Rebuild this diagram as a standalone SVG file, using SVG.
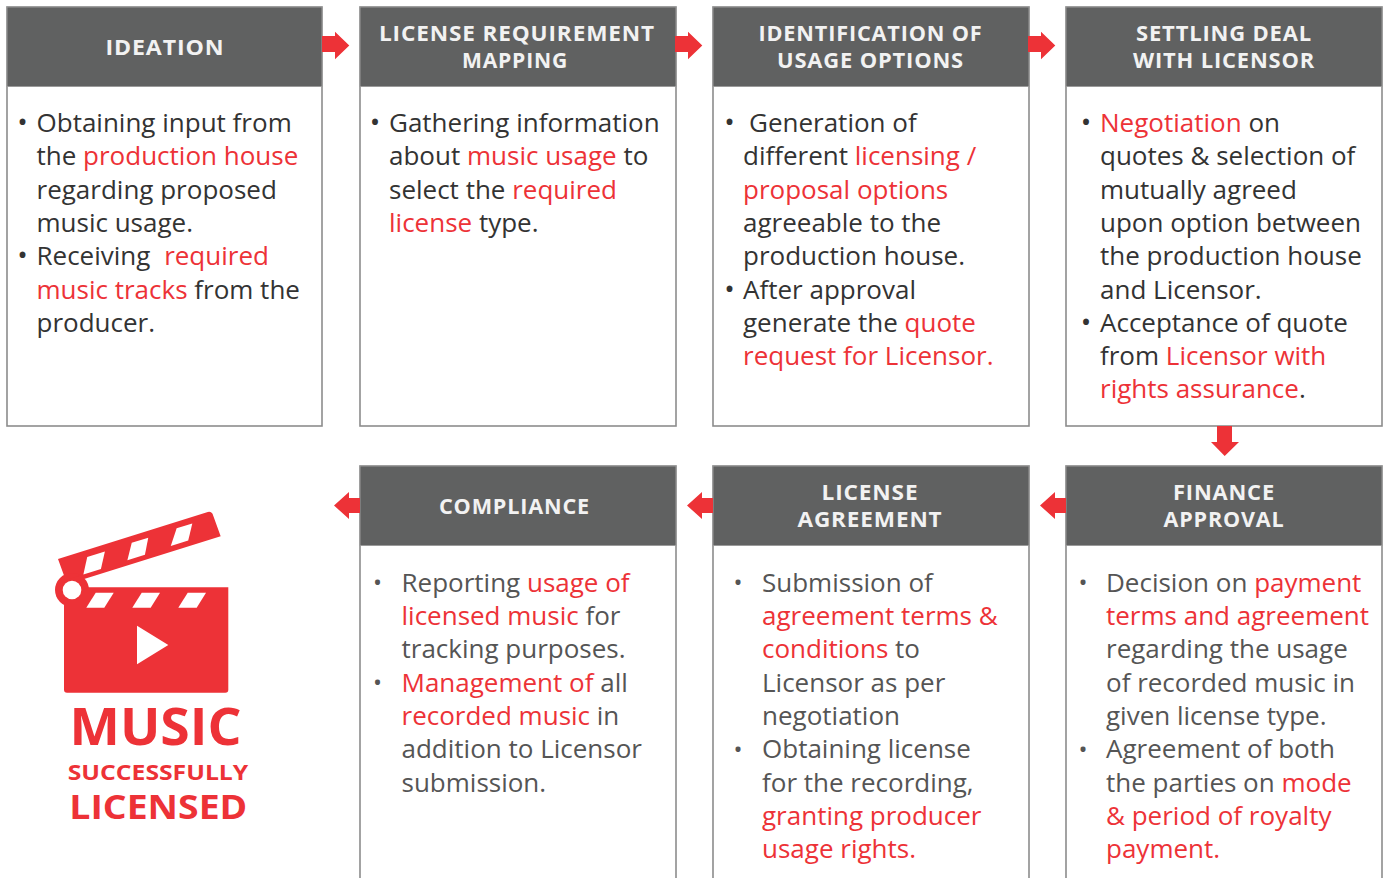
<svg xmlns="http://www.w3.org/2000/svg" width="1387" height="878" viewBox="0 0 1387 878">
<style>
.box{fill:#ffffff;stroke:#8c8c8c;stroke-width:1.6}
.hdr{fill:#606161;stroke:#9a9a9a;stroke-width:1}
.ht{font-family:"Open Sans","Noto Sans",sans-serif;font-weight:700;font-size:21px;letter-spacing:0.8px;fill:#f2f2f2;text-anchor:middle}
.bt{font-family:"Open Sans","Noto Sans",sans-serif;font-size:26px;fill:#333333}
.bb{font-family:"Open Sans","Noto Sans",sans-serif;font-size:26px;fill:#555555}
.r{fill:#ed3237}
.bul{font-family:"Open Sans","Noto Sans",sans-serif;font-size:28px;text-anchor:middle}
.bul2{font-family:"Open Sans","Noto Sans",sans-serif;font-size:24px;text-anchor:middle}
.arr{fill:#ed3237}
.logo{font-family:"Open Sans","Liberation Sans",sans-serif;font-weight:700;fill:#ed3237;text-anchor:middle}
</style>
<rect width="1387" height="878" fill="#ffffff"/>

<g id="node-ideation">
<rect class="box" x="7" y="7" width="315" height="419"/>
<rect class="hdr" x="7" y="7" width="315" height="79.5"/>
<text class="ht" x="165" y="55.3" font-size="23" textLength="119" lengthAdjust="spacingAndGlyphs">IDEATION</text>
<text class="bul" x="22.5" y="132" fill="#333">•</text>
<text class="bt" x="36.5" y="132">Obtaining input from</text>
<text class="bt" x="36.5" y="165.3">the <tspan class="r">production house</tspan></text>
<text class="bt" x="36.5" y="198.6">regarding proposed</text>
<text class="bt" x="36.5" y="232">music usage.</text>
<text class="bul" x="22.5" y="265.2" fill="#333">•</text>
<text class="bt" x="36.5" y="265.2">Receiving <tspan class="r" dx="7">required</tspan></text>
<text class="bt" x="36.5" y="298.5"><tspan class="r">music tracks</tspan> from the</text>
<text class="bt" x="36.5" y="331.8">producer.</text>
</g>

<g id="node-license-requirement">
<rect class="box" x="360" y="7" width="316" height="419"/>
<rect class="hdr" x="360" y="7" width="316" height="79.5"/>
<text class="ht" x="517" y="41" textLength="276" lengthAdjust="spacingAndGlyphs">LICENSE REQUIREMENT</text>
<text class="ht" x="515" y="68" textLength="106" lengthAdjust="spacingAndGlyphs">MAPPING</text>
<text class="bul" x="375" y="132" fill="#333">•</text>
<text class="bt" x="389" y="132">Gathering information</text>
<text class="bt" x="389" y="165.3">about <tspan class="r">music usage</tspan> to</text>
<text class="bt" x="389" y="198.6">select the <tspan class="r">required</tspan></text>
<text class="bt" x="389" y="232"><tspan class="r">license</tspan> type.</text>
</g>

<g id="node-identification">
<rect class="box" x="713" y="7" width="316" height="419"/>
<rect class="hdr" x="713" y="7" width="316" height="79.5"/>
<text class="ht" x="870.5" y="41" textLength="224" lengthAdjust="spacingAndGlyphs">IDENTIFICATION OF</text>
<text class="ht" x="870.5" y="68" textLength="187" lengthAdjust="spacingAndGlyphs">USAGE OPTIONS</text>
<text class="bul" x="729.5" y="132" fill="#333">•</text>
<text class="bt" x="749" y="132">Generation of</text>
<text class="bt" x="743" y="165.3">different <tspan class="r">licensing /</tspan></text>
<text class="bt" x="743" y="198.6"><tspan class="r">proposal options</tspan></text>
<text class="bt" x="743" y="232">agreeable to the</text>
<text class="bt" x="743" y="265.2">production house.</text>
<text class="bul" x="729.5" y="298.5" fill="#333">•</text>
<text class="bt" x="743" y="298.5">After approval</text>
<text class="bt" x="743" y="331.8">generate the <tspan class="r">quote</tspan></text>
<text class="bt" x="743" y="365"><tspan class="r">request for Licensor.</tspan></text>
</g>

<g id="node-settling-deal">
<rect class="box" x="1066" y="7" width="316" height="419"/>
<rect class="hdr" x="1066" y="7" width="316" height="79.5"/>
<text class="ht" x="1224" y="41" textLength="176" lengthAdjust="spacingAndGlyphs">SETTLING DEAL</text>
<text class="ht" x="1224" y="68" textLength="182" lengthAdjust="spacingAndGlyphs">WITH LICENSOR</text>
<text class="bul" x="1086" y="132" fill="#333">•</text>
<text class="bt" x="1100" y="132"><tspan class="r">Negotiation</tspan> on</text>
<text class="bt" x="1100" y="165.3">quotes &amp; selection of</text>
<text class="bt" x="1100" y="198.6">mutually agreed</text>
<text class="bt" x="1100" y="232">upon option between</text>
<text class="bt" x="1100" y="265.2">the production house</text>
<text class="bt" x="1100" y="298.5">and Licensor.</text>
<text class="bul" x="1086" y="331.8" fill="#333">•</text>
<text class="bt" x="1100" y="331.8">Acceptance of quote</text>
<text class="bt" x="1100" y="365">from <tspan class="r">Licensor with</tspan></text>
<text class="bt" x="1100" y="398.3"><tspan class="r">rights assurance</tspan>.</text>
</g>

<g id="node-finance-approval">
<rect class="box" x="1066" y="466" width="316" height="430"/>
<rect class="hdr" x="1066" y="466" width="316" height="79.5"/>
<text class="ht" x="1224" y="500" textLength="102" lengthAdjust="spacingAndGlyphs">FINANCE</text>
<text class="ht" x="1224" y="527.3" textLength="121" lengthAdjust="spacingAndGlyphs">APPROVAL</text>
<text class="bul2" x="1083" y="591" fill="#555">•</text>
<text class="bb" x="1106" y="591.7">Decision on <tspan class="r">payment</tspan></text>
<text class="bb" x="1106" y="625"><tspan class="r">terms and agreement</tspan></text>
<text class="bb" x="1106" y="658.3">regarding the usage</text>
<text class="bb" x="1106" y="691.7">of recorded music in</text>
<text class="bb" x="1106" y="725">given license type.</text>
<text class="bul2" x="1083" y="757.6" fill="#555">•</text>
<text class="bb" x="1106" y="758.3">Agreement of both</text>
<text class="bb" x="1106" y="791.7">the parties on <tspan class="r">mode</tspan></text>
<text class="bb" x="1106" y="825"><tspan class="r">&amp; period of royalty</tspan></text>
<text class="bb" x="1106" y="858.3"><tspan class="r">payment.</tspan></text>
</g>

<g id="node-license-agreement">
<rect class="box" x="713" y="466" width="316" height="430"/>
<rect class="hdr" x="713" y="466" width="316" height="79.5"/>
<text class="ht" x="870" y="500" textLength="97" lengthAdjust="spacingAndGlyphs">LICENSE</text>
<text class="ht" x="870" y="527.3" textLength="145" lengthAdjust="spacingAndGlyphs">AGREEMENT</text>
<text class="bul2" x="738" y="591" fill="#555">•</text>
<text class="bb" x="762" y="591.7">Submission of</text>
<text class="bb" x="762" y="625"><tspan class="r">agreement terms &amp;</tspan></text>
<text class="bb" x="762" y="658.3"><tspan class="r">conditions</tspan> to</text>
<text class="bb" x="762" y="691.7">Licensor as per</text>
<text class="bb" x="762" y="725">negotiation</text>
<text class="bul2" x="738" y="757.6" fill="#555">•</text>
<text class="bb" x="762" y="758.3">Obtaining license</text>
<text class="bb" x="762" y="791.7">for the recording,</text>
<text class="bb" x="762" y="825"><tspan class="r">granting producer</tspan></text>
<text class="bb" x="762" y="858.3"><tspan class="r">usage rights.</tspan></text>
</g>

<g id="node-compliance">
<rect class="box" x="360" y="466" width="316" height="430"/>
<rect class="hdr" x="360" y="466" width="316" height="79.5"/>
<text class="ht" x="514.5" y="514" font-size="22" textLength="151" lengthAdjust="spacingAndGlyphs">COMPLIANCE</text>
<text class="bul2" x="377.5" y="591" fill="#555">•</text>
<text class="bb" x="401.5" y="591.7">Reporting <tspan class="r">usage of</tspan></text>
<text class="bb" x="401.5" y="625"><tspan class="r">licensed music</tspan> for</text>
<text class="bb" x="401.5" y="658.3">tracking purposes.</text>
<text class="bul2" x="377.5" y="691" fill="#555">•</text>
<text class="bb" x="401.5" y="691.7"><tspan class="r">Management of</tspan> all</text>
<text class="bb" x="401.5" y="725"><tspan class="r">recorded music</tspan> in</text>
<text class="bb" x="401.5" y="758.3">addition to Licensor</text>
<text class="bb" x="401.5" y="791.7">submission.</text>
</g>

<g id="node-music-licensed">
<g fill="#ed3237">
<g transform="translate(58,559) rotate(-17.4)">
<path d="M0,0 H157 Q160,0 161,3 L162,27 H8 Q2,27 1,22 Z"/>
</g>
<circle cx="72" cy="590" r="17"/>
<path d="M64,587.3 H228.3 V689.7 Q228.3,692.7 225.3,692.7 H67 Q64,692.7 64,689.7 Z"/>
<path d="M66,580 L82,575 L88,588 L66,595 Z"/>
</g>
<g fill="#ffffff">
<g transform="translate(58,559) rotate(-17.4)">
<polygon points="28.5,6.8 47,6.8 38,22.3 19.6,22.3"/>
<polygon points="75.2,6.6 92.5,6.6 84.2,22 65.8,22"/>
<polygon points="122.4,6.2 138.8,6.2 129.8,21.3 111.5,21.3"/>
</g>
<circle cx="72" cy="590" r="9.3"/>
<polygon points="95.7,592.7 113.7,592.7 104.3,607.7 86.3,607.7"/>
<polygon points="141.7,592.7 160,592.7 150.7,607.7 132.3,607.7"/>
<polygon points="187.7,592.7 206,592.7 196.7,607.7 178.3,607.7"/>
<polygon points="137,625.7 168.3,645 137,664.3"/>
</g>
<text class="logo" x="155.5" y="745" font-size="52" textLength="172" lengthAdjust="spacingAndGlyphs">MUSIC</text>
<text class="logo" x="158" y="780" font-size="20.5" textLength="180.6" lengthAdjust="spacingAndGlyphs">SUCCESSFULLY</text>
<text class="logo" x="158.3" y="819.3" font-size="34" textLength="178" lengthAdjust="spacingAndGlyphs">LICENSED</text>
</g>

<g id="connectors">
<polygon class="arr" points="322,36 335,36 335,31.7 349.3,45.6 335,59.3 335,52 322,52"/>
<polygon class="arr" points="675,36 688,36 688,31.7 702.3,45.6 688,59.3 688,52 675,52"/>
<polygon class="arr" points="1028,36 1041,36 1041,31.7 1055.3,45.6 1041,59.3 1041,52 1028,52"/>
<polygon class="arr" points="1217,426 1232,426 1232,442 1239,442 1224.7,456 1211,442 1217,442"/>
<polygon class="arr" points="1066,498 1055,498 1055,492 1040,505.5 1055,519 1055,513 1066,513"/>
<polygon class="arr" points="713,498 702,498 702,492 687,505.5 702,519 702,513 713,513"/>
<polygon class="arr" points="360,498 349,498 349,492 334,505.5 349,519 349,513 360,513"/>
</g>
</svg>
